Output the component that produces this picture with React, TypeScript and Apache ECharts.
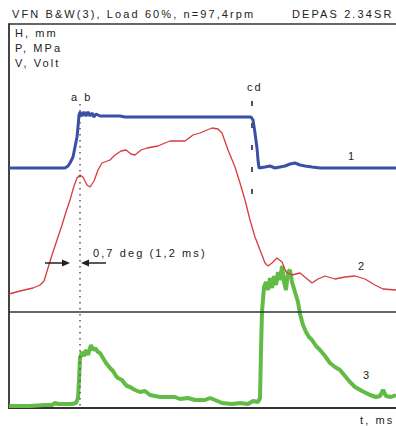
import React, { useEffect, useRef } from "react";
import * as echarts from "echarts";

// ---- texts ----
const titleLeft = "VFN B&W(3), Load 60%, n=97,4rpm";
const titleRight = "DEPAS 2.34SR";
const unitLabels = ["H, mm", "P, MPa", "V, Volt"];
const timeLabel = "t, ms";
const curveNames = ["1", "2", "3"];
const markerABLabel = "a b";
const markerCDLabel = "cd";
const annotation = "0,7 deg (1,2 ms)";

// ---- marker times (ms) ----
const markerAB = 71;
const markerCD = 243;

// ---- valve lift H, mm : [t ms, H] ----
const liftH: [number, number][] = [
  [0, 0], [56, 0], [59, 4], [61, 10], [64, 22], [66, 42], [68, 62], [69, 82], [70, 106],
  [71, 112], [73, 104], [75, 112], [77, 104], [79, 112], [81, 104], [83, 110], [85, 102],
  [87, 108], [91, 104], [111, 104], [116, 102], [151, 102], [221, 102], [242, 102],
  [244, 96], [246, 70], [248, 40], [249, 16], [250, 0], [256, 2], [261, 4], [266, 0],
  [271, 2], [276, 4], [281, 8], [286, 10], [291, 6], [296, 4], [303, 2], [311, 0], [387, 0],
];

// ---- cylinder pressure P, MPa : [t ms, P] ----
const pressureP: [number, number][] = [
  [0, 0.28], [11, 0.31], [24, 0.34], [31, 0.37], [35, 0.41], [39, 0.54], [43, 0.67],
  [47, 0.79], [53, 0.97], [57, 1.1], [61, 1.22], [65, 1.36], [68, 1.44], [71, 1.47],
  [74, 1.45], [78, 1.37], [81, 1.35], [85, 1.41], [89, 1.52], [93, 1.59], [101, 1.62],
  [106, 1.67], [112, 1.71], [117, 1.72], [122, 1.68], [126, 1.67], [132, 1.72],
  [138, 1.74], [149, 1.76], [156, 1.79], [161, 1.81], [176, 1.81], [184, 1.87],
  [191, 1.89], [198, 1.92], [203, 1.94], [209, 1.93], [213, 1.89], [219, 1.72],
  [226, 1.55], [231, 1.39], [236, 1.22], [241, 1.02], [246, 0.85], [251, 0.72],
  [256, 0.59], [259, 0.56], [263, 0.59], [268, 0.64], [273, 0.6], [277, 0.5],
  [283, 0.47], [291, 0.49], [297, 0.44], [303, 0.39], [309, 0.43], [316, 0.46],
  [326, 0.43], [336, 0.45], [346, 0.46], [356, 0.43], [366, 0.37], [374, 0.33], [387, 0.32],
];

// ---- sensor voltage V, Volt : [t ms, V] ----
const voltageV: [number, number][] = [
  [0, 0.04], [21, 0.04], [36, 0.06], [43, 0.06], [46, 0.1], [49, 0.08], [56, 0.08],
  [63, 0.08], [67, 0.1], [69, 0.2], [70, 0.56], [71, 1.0], [73, 1.12], [75, 1.04],
  [77, 1.16], [79, 1.06], [82, 1.26], [84, 1.16], [86, 1.2], [89, 1.12], [91, 1.1],
  [94, 1.0], [97, 0.9], [101, 0.8], [104, 0.74], [107, 0.64], [109, 0.6], [113, 0.56],
  [116, 0.48], [118, 0.44], [121, 0.42], [126, 0.36], [131, 0.32], [136, 0.34],
  [141, 0.26], [146, 0.24], [151, 0.22], [159, 0.22], [166, 0.22], [171, 0.18],
  [179, 0.2], [186, 0.16], [196, 0.16], [201, 0.2], [206, 0.16], [213, 0.1], [223, 0.08],
  [231, 0.1], [239, 0.08], [244, 0.14], [249, 0.12], [251, 0.2], [252, 1.16], [253, 1.92],
  [255, 2.42], [257, 2.52], [259, 2.36], [261, 2.6], [263, 2.4], [265, 2.64], [267, 2.46],
  [269, 2.72], [271, 2.56], [273, 2.84], [275, 2.52], [277, 2.36], [279, 2.72], [281, 2.76],
  [283, 2.52], [286, 2.32], [289, 2.12], [291, 1.88], [294, 1.66], [297, 1.52], [300, 1.42],
  [303, 1.36], [307, 1.24], [311, 1.16], [316, 1.04], [321, 0.9], [326, 0.82], [331, 0.76],
  [336, 0.64], [341, 0.52], [346, 0.42], [353, 0.34], [361, 0.26], [367, 0.22], [371, 0.24],
  [374, 0.36], [377, 0.24], [382, 0.22], [387, 0.26],
];

const FONT = "'Liberation Sans', Arial, sans-serif";
const INK = "#222";

export default function App() {
  const ref = useRef<HTMLDivElement>(null);

  useEffect(() => {
    if (!ref.current) return;
    const chart = echarts.init(ref.current, null, { renderer: "svg" });
    chart.setOption({
      animation: false,
      backgroundColor: "#fff",
      grid: { left: 9, right: 0, top: 24, bottom: 18 },
      xAxis: {
        type: "value", min: 0, max: 387,
        axisLine: { show: true, onZero: false, lineStyle: { color: "#333", width: 2 } },
        axisTick: { show: false }, axisLabel: { show: false }, splitLine: { show: false },
      },
      yAxis: [
        {
          type: "value", min: -480, max: 288, position: "left",
          axisLine: { show: true, onZero: false, lineStyle: { color: "#444", width: 2 } },
          axisTick: { show: false }, axisLabel: { show: false }, splitLine: { show: false },
        },
        { type: "value", min: -0.86, max: 2.98, show: false, splitLine: { show: false } },
        { type: "value", min: 0, max: 7.68, show: false, splitLine: { show: false } },
      ],
      series: [
        {
          name: "V", type: "line", yAxisIndex: 2, data: voltageV, showSymbol: false, symbol: "none",
          lineStyle: { color: "#62bb45", width: 4 }, z: 2, silent: true,
        },
        {
          name: "P", type: "line", yAxisIndex: 1, data: pressureP, showSymbol: false, symbol: "none",
          lineStyle: { color: "#d83a3c", width: 1.3 }, z: 3, silent: true,
        },
        {
          name: "H", type: "line", yAxisIndex: 0, data: liftH, showSymbol: false, symbol: "none",
          lineStyle: { color: "#3a4fa6", width: 3 }, z: 4, silent: true,
        },
      ],
    });

    const xAB = chart.convertToPixel({ xAxisIndex: 0 }, markerAB) as number;
    const xCD = chart.convertToPixel({ xAxisIndex: 0 }, markerCD) as number;
    const yArrow = 263;
    const txt = (text: string, x: number, y: number) => ({
      type: "text", x, y, z: 100,
      style: { text, fill: INK, font: `11px ${FONT}`, align: "left", verticalAlign: "middle" },
    });

    chart.setOption({
      graphic: [
        { type: "line", z: 100, shape: { x1: 9, y1: 24, x2: 396, y2: 24 }, style: { stroke: "#333", lineWidth: 1.5 } },
        { type: "line", z: 100, shape: { x1: 9, y1: 312, x2: 396, y2: 312 }, style: { stroke: "#333", lineWidth: 1.5 } },
        { type: "line", z: 100, shape: { x1: xAB, y1: 104, x2: xAB, y2: 408 }, style: { stroke: "#555", lineWidth: 1.5, lineDash: [1.5, 4.5] } },
        { type: "line", z: 100, shape: { x1: xCD, y1: 101, x2: xCD, y2: 198 }, style: { stroke: "#555", lineWidth: 2, lineDash: [5, 17] } },
        { type: "line", z: 100, shape: { x1: 45, y1: yArrow, x2: xAB - 12, y2: yArrow }, style: { stroke: INK, lineWidth: 1.5 } },
        { type: "polygon", z: 100, shape: { points: [[xAB - 18, yArrow - 3.5], [xAB - 10, yArrow], [xAB - 18, yArrow + 3.5]] }, style: { fill: INK } },
        { type: "line", z: 100, shape: { x1: xAB + 8, y1: yArrow, x2: 106, y2: yArrow }, style: { stroke: INK, lineWidth: 1.5 } },
        { type: "polygon", z: 100, shape: { points: [[xAB + 9, yArrow - 3.5], [xAB + 1, yArrow], [xAB + 9, yArrow + 3.5]] }, style: { fill: INK } },
        txt(titleLeft, 12, 14),
        txt(titleRight, 292, 14),
        txt(unitLabels[0], 15, 33),
        txt(unitLabels[1], 15, 48),
        txt(unitLabels[2], 15, 63),
        txt(markerABLabel, xAB - 9, 97),
        txt(markerCDLabel, xCD - 5, 87),
        txt(curveNames[0], 348, 156),
        txt(curveNames[1], 358, 266),
        txt(curveNames[2], 363, 375),
        txt(annotation, 93, 253),
        txt(timeLabel, 360, 420),
      ],
    });

    return () => chart.dispose();
  }, []);

  return (
    <>
      <style>{`.depas-chart text { letter-spacing: 2.1px; }`}</style>
      <div
        ref={ref}
        className="depas-chart"
        style={{ position: "fixed", left: 0, top: 0, width: 396, height: 426, background: "#fff" }}
      />
    </>
  );
}
